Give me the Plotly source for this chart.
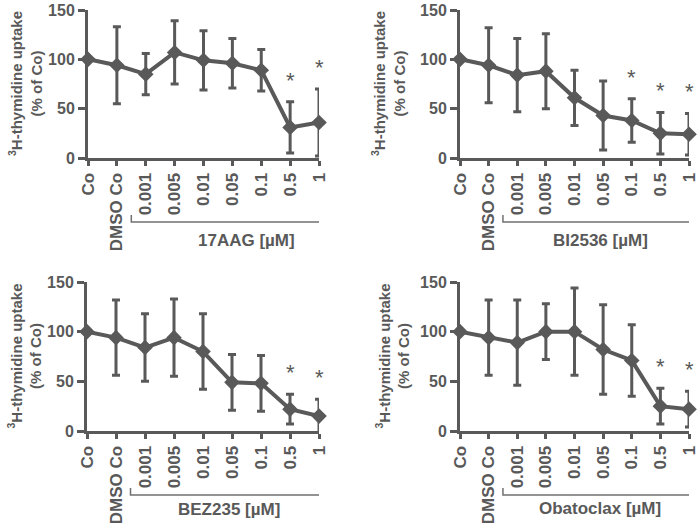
import plotly.graph_objects as go

categories = ["Co", "DMSO Co", "0.001", "0.005", "0.01", "0.05", "0.1", "0.5", "1"]
y_ticks = [0, 50, 100, 150]

drug_names = ["17AAG", "BI2536", "BEZ235", "Obatoclax"]

vals_17aag = [100, 94, 85, 107, 99, 96, 89, 31, 36]
err_17aag = [0, 39, 21, 32, 30, 25, 21, 26, 34]
star_17aag = [7, 8]

vals_bi2536 = [100, 94, 84, 88, 61, 43, 38, 25, 24]
err_bi2536 = [0, 38, 37, 38, 28, 35, 22, 21, 21]
star_bi2536 = [6, 7, 8]

vals_bez235 = [100, 94, 84, 94, 80, 49, 48, 22, 15]
err_bez235 = [0, 38, 34, 39, 38, 28, 28, 15, 17]
star_bez235 = [7, 8]

vals_obato = [100, 94, 89, 100, 100, 82, 71, 25, 22]
err_obato = [0, 38, 43, 28, 44, 45, 36, 18, 18]
star_obato = [7, 8]

W, H = 700, 529
GRAY = "#595959"
FONT = "Liberation Sans, Arial, sans-serif"

panels = [
    (vals_17aag, err_17aag, star_17aag, (88, 319), (10, 158), 26, 5.5, 82),
    (vals_bi2536, err_bi2536, star_bi2536, (460, 689), (10, 158), 389, 4.9, 82),
    (vals_bez235, err_bez235, star_bez235, (87, 319), (282, 431), 25, 4.9, 78),
    (vals_obato, err_obato, star_obato, (460, 689), (282, 431), 393, 4.9, 77),
]

fig = go.Figure()
annotations = []
shapes = []
xs = list(range(len(categories)))

for i, (vals, errs, stars, (px0, px1), (py0, py1), tx, lab_x, lab_dy) in enumerate(panels):
    n = i + 1
    xa = "x" if n == 1 else f"x{n}"
    ya = "y" if n == 1 else f"y{n}"
    fig.add_trace(go.Scatter(
        x=xs, y=vals, mode="lines+markers",
        line=dict(color=GRAY, width=4),
        marker=dict(symbol="diamond", size=12, color=GRAY),
        error_y=dict(type="data", array=errs, visible=True, color=GRAY, thickness=3, width=4),
        cliponaxis=False, showlegend=False,
        xaxis=xa, yaxis=ya,
    ))
    xd = [px0 / W, px1 / W]
    yd = [1 - py1 / H, 1 - py0 / H]
    xkey = "xaxis" if n == 1 else f"xaxis{n}"
    ykey = "yaxis" if n == 1 else f"yaxis{n}"
    fig.update_layout(**{
        xkey: dict(domain=xd, range=[0, len(categories) - 1], anchor=ya, automargin=False,
                   tickmode="array", tickvals=xs, ticktext=categories, tickangle=-90,
                   showline=True, linecolor=GRAY, linewidth=3,
                   ticks="outside", ticklen=5, tickwidth=3, tickcolor=GRAY,
                   showgrid=False, zeroline=False,
                   tickfont=dict(family=FONT, size=17, color=GRAY, weight="bold")),
        ykey: dict(domain=yd, range=[0, 150], anchor=xa, automargin=False,
                   tickmode="array", tickvals=y_ticks,
                   showline=True, linecolor=GRAY, linewidth=3,
                   ticks="outside", ticklen=7, tickwidth=3, tickcolor=GRAY,
                   showgrid=False, zeroline=False,
                   tickfont=dict(family=FONT, size=16, color=GRAY, weight="bold")),
    })
    for s in stars:
        annotations.append(dict(
            x=s, y=vals[s] + errs[s] + 22, xref=xa, yref=ya, text="*", showarrow=False,
            font=dict(family=FONT, size=22, color=GRAY), yanchor="middle",
        ))
    annotations.append(dict(
        x=tx / W, y=1 - (py0 + py1) / 2 / H, xref="paper", yref="paper",
        text="<sup>3</sup>H-thymidine uptake<br>(% of Co)", showarrow=False,
        textangle=-90, font=dict(family=FONT, size=15, color=GRAY, weight="bold"),
        xanchor="center", yanchor="middle",
    ))
    b0 = 2 - 0.5
    b1 = len(categories) - 1 + 0.3
    by = 1 - (py1 + 64) / H
    bt = by + 7 / H
    shapes.append(dict(type="path", xref=xa, yref="paper",
                       path=f"M {b0},{bt} L {b0},{by} L {b1},{by} L {b1},{bt}",
                       line=dict(color="#707070", width=1.5)))
    annotations.append(dict(
        x=lab_x, y=1 - (py1 + lab_dy) / H, xref=xa, yref="paper",
        text=f"{drug_names[i]} [µM]", showarrow=False,
        font=dict(family=FONT, size=17, color=GRAY, weight="bold"),
        xanchor="center", yanchor="middle",
    ))

fig.update_layout(
    width=W, height=H, margin=dict(l=0, r=0, t=0, b=0, autoexpand=False),
    paper_bgcolor="white", plot_bgcolor="white",
    annotations=annotations, shapes=shapes,
)

fig.write_html("out.html", config={"displayModeBar": False},
               post_script="document.body.style.margin='0px';document.body.style.overflow='hidden';")
